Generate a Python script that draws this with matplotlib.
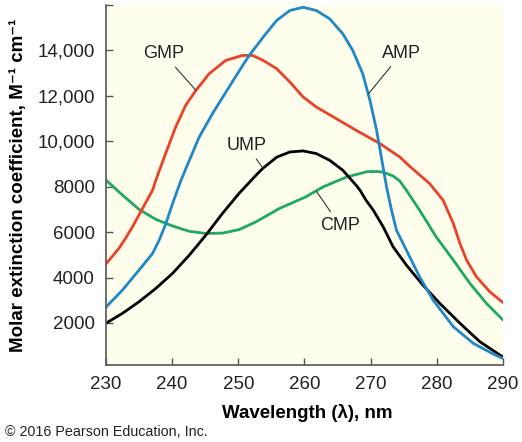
import matplotlib
matplotlib.use("Agg")
import matplotlib.pyplot as plt

# ---- data ----
gmp_nm = [230, 232, 233, 234, 235.5, 237.05, 237.55, 239, 240.57, 242.08, 243.6, 245.6,
          248.1, 250.65, 252.16, 253.76, 255.8, 257.8, 259.8, 261.8, 264.8, 267.8, 271.4,
          274.4, 275.9, 278.9, 280.95, 282.5, 283.5, 284.5, 286, 288, 290]
gmp_eps = [4600, 5300, 5750, 6230, 7030, 7850, 8300, 9450, 10650, 11600, 12242, 12975,
           13560, 13780, 13780, 13560, 13195, 12607, 11950, 11508, 10997, 10484, 9899,
           9310, 8900, 8140, 7407, 6382, 5503, 4769, 4035, 3377, 2900]

amp_nm = [230, 232.5, 235, 237.05, 238.05, 239.06, 240.07, 241.3, 242.08, 244.1, 246.1,
          248.6, 251.15, 251.75, 253.76, 255.8, 257.8, 259.8, 261.8, 263.8, 265.8, 267.3,
          268.8, 269.9, 270.9, 271.5, 272.4, 273.16, 273.9, 275.4, 277.4, 279.44, 282.5,
          285.5, 288.5, 290]
amp_eps = [2700, 3450, 4330, 5064, 5648, 6382, 7261, 8250, 8800, 10190, 11218,
           12386, 13560, 13820, 14585, 15320, 15758, 15900, 15758, 15393, 14733, 14000,
           12975, 11800, 10484, 9500, 8000, 6967, 6088, 5209, 4035, 3011, 1837,
           1108, 637, 440]

ump_nm = [230, 232.5, 235, 237.55, 240.07, 242.6, 245.1, 247.6, 250.1, 252.66, 253.76,
          255.8, 257.8, 259.8, 261.8, 263.8, 265.8, 267.8, 268.4, 269.3, 270.4, 271.9,
          273.4, 275.4, 277.9, 280.45, 283.5, 286.5, 290]
ump_eps = [1990, 2426, 2936, 3525, 4185, 4989, 5868, 6821, 7700, 8500, 8820,
           9300, 9530, 9575, 9458, 9165, 8725, 8066, 7846, 7407, 6967, 6233,
           5354, 4549, 3670, 2866, 1987, 1178, 500]

cmp_nm = [230, 232.5, 235, 237.55, 240.07, 242.6, 245.1, 247.6, 250.1, 252.66, 256.2,
          260.2, 262.8, 266.4, 268.4, 269.4, 270.9, 271.9, 273.4, 274.4, 275.4, 277.4,
          279.9, 282.5, 285, 287.5, 290]
cmp_eps = [8290, 7630, 7000, 6560, 6270, 6035, 5941, 5955, 6110, 6450, 7040,
           7552, 7990, 8430, 8580, 8660, 8670, 8640, 8470, 8250, 7846, 6967,
           5793, 4769, 3745, 2866, 2132]

x_ticks = [230, 240, 250, 260, 270, 280, 290]
y_ticks = [2000, 4000, 6000, 8000, 10000, 12000, 14000, 16000]
y_tick_labels = ["2000", "4000", "6000", "8000", "10,000", "12,000", "14,000", ""]

# label name, text position (nm, eps), leader end (nm, eps)
labels = [
    ("GMP", 238.7, 13850, 243.6, 12242),
    ("UMP", 251.25, 9820, 253.76, 8800),
    ("AMP", 274.7, 13880, 269.7, 12100),
    ("CMP", 265.35, 6300, 261.8, 7800),
]

plt.rcParams['font.family'] = ['Liberation Sans', 'DejaVu Sans']

fig = plt.figure(figsize=(5.22, 4.42), dpi=100)
ax = fig.add_axes([0.203, 0.1742, 0.7605, 0.8145])
ax.set_facecolor('#FFFDEB')

lw = 2.0
ax.plot(cmp_nm, cmp_eps, color='#1FA862', lw=lw, solid_capstyle='round', solid_joinstyle='round')
ax.plot(ump_nm, ump_eps, color='#000000', lw=lw, solid_capstyle='round', solid_joinstyle='round')
ax.plot(gmp_nm, gmp_eps, color='#EB4128', lw=lw, solid_capstyle='round', solid_joinstyle='round')
ax.plot(amp_nm, amp_eps, color='#1E88C8', lw=lw, solid_capstyle='round', solid_joinstyle='round')

for name, tx, ty, px, py in labels:
    ax.annotate(name, xy=(px, py), xytext=(tx, ty), ha='center', va='center',
                fontsize=13, color='#222222',
                arrowprops=dict(arrowstyle='-', color='#333333', lw=0.8,
                                shrinkA=2, shrinkB=0))

ax.set_xlim(230, 290)
ax.set_ylim(150, 16000)
ax.set_xticks(x_ticks)
ax.set_yticks(y_ticks)
ax.set_yticklabels(y_tick_labels)

for s in ['top', 'right']:
    ax.spines[s].set_visible(False)
for s in ['left', 'bottom']:
    ax.spines[s].set_color('#555555')
    ax.spines[s].set_linewidth(1.2)

ax.tick_params(direction='in', length=5, width=1.0, color='#555555',
               labelsize=13.5, labelcolor='#222222', pad=8)

ax.set_xlabel('Wavelength (λ), nm', fontsize=13.5, fontweight='bold')
ax.set_ylabel('Molar extinction coefficient, M⁻¹ cm⁻¹', fontsize=13.5, fontweight='bold')
ax.xaxis.set_label_coords(0.506, -0.108)
ax.yaxis.set_label_coords(-0.199, 0.5)

fig.text(0.01, 0.0226, '© 2016 Pearson Education, Inc.', fontsize=10.3,
         ha='left', va='center', color='#222222')

fig.savefig('out.png', dpi=100, facecolor='white')
